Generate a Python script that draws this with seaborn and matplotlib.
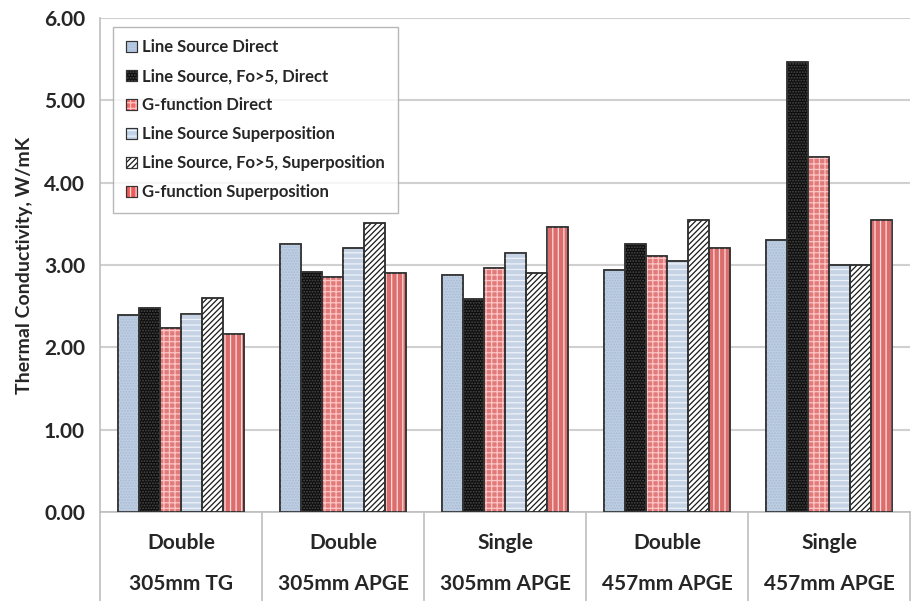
import numpy as np
import pandas as pd
import seaborn as sns
import matplotlib.pyplot as plt
import matplotlib.transforms as mtransforms
from matplotlib.patches import Rectangle, Patch

configs = ["Double", "Double", "Single", "Double", "Single"]
sizes = ["305mm TG", "305mm APGE", "305mm APGE", "457mm APGE", "457mm APGE"]
methods = ["Line Source Direct", "Line Source, Fo>5, Direct", "G-function Direct",
           "Line Source Superposition", "Line Source, Fo>5, Superposition",
           "G-function Superposition"]

ls_direct = [2.39, 3.26, 2.88, 2.94, 3.30]
ls_fo5_direct = [2.48, 2.91, 2.59, 3.26, 5.47]
gf_direct = [2.23, 2.86, 2.96, 3.11, 4.31]
ls_super = [2.41, 3.21, 3.15, 3.05, 3.00]
ls_fo5_super = [2.60, 3.51, 2.90, 3.55, 3.00]
gf_super = [2.16, 2.90, 3.46, 3.21, 3.55]

face = ["#B9CDE5", "#0D0D0D", "#F06A6A", "#C0D3EA", "#FFFFFF", "#EE5A5A"]
hatch = ["......", "......", "+++", "---", "//////", "|||"]
hatch_col = ["#A6BCD9", "#4A4A4A", "#FFC4C4", "#EEF3FA", "#1A1A1A", "#FFDADA"]

if __name__ == '__main__':
    series = [ls_direct, ls_fo5_direct, gf_direct, ls_super, ls_fo5_super, gf_super]
    groups = [str(i) for i in range(len(configs))]
    df = pd.DataFrame({
        "group": groups * len(methods),
        "k": sum(series, []),
        "method": sum([[m] * len(groups) for m in methods], []),
    })

    sns.set_style("white")
    plt.rcParams['font.family'] = ['Lato', 'DejaVu Sans']
    plt.rcParams['font.weight'] = 'bold'
    plt.rcParams['hatch.linewidth'] = 0.9

    fig = plt.figure(figsize=(9.12, 6.01), dpi=100)
    ax = fig.add_axes([0.11, 0.148, 0.888, 0.822])

    sns.barplot(ax=ax, data=df, x="group", y="k", hue="method", hue_order=methods,
                order=groups, palette=face, width=0.78, gap=0, edgecolor="#333333",
                linewidth=1.1, legend=False, errorbar=None, zorder=3)

    # overlay hatch patterns on the seaborn bars
    bars = [p for p in ax.patches if isinstance(p, Rectangle)]
    n = len(groups)
    for i, p in enumerate(bars):
        j = i // n
        ov = Rectangle(p.get_xy(), p.get_width(), p.get_height(), facecolor="none",
                       edgecolor=hatch_col[j], linewidth=0, hatch=hatch[j], zorder=3.5)
        ax.add_patch(ov)
        out = Rectangle(p.get_xy(), p.get_width(), p.get_height(), facecolor="none",
                        edgecolor="#333333", linewidth=1.1, zorder=3.6)
        ax.add_patch(out)

    ax.set_ylim(0, 6)
    ax.set_xlim(-0.5, len(groups) - 0.5)
    ax.set_yticks(np.arange(0, 7, 1))
    ax.set_yticklabels([f"{v:.2f}" for v in np.arange(0, 7, 1)], fontsize=15, fontweight='bold')
    ax.yaxis.grid(True, color="#D0D0D0", linewidth=1.5, zorder=0)
    ax.set_axisbelow(True)
    ax.tick_params(axis='y', length=7, color="#BFBFBF", width=1.2, pad=4)
    ax.tick_params(axis='x', length=0)
    ax.set_xticks(range(n))
    ax.set_xticklabels([])
    ax.set_xlabel("")
    ax.set_ylabel("Thermal Conductivity, W/mK", fontsize=14, fontweight='bold', labelpad=8)
    for s in ["top", "right"]:
        ax.spines[s].set_visible(False)
    for s in ["left", "bottom"]:
        ax.spines[s].set_color("#BFBFBF")
        ax.spines[s].set_linewidth(1.2)

    # two-level category labels with separators
    trans = mtransforms.blended_transform_factory(ax.transData, ax.transAxes)
    for i in range(n):
        ax.text(i, -0.062, configs[i], transform=trans, ha='center', va='center',
                fontsize=15, fontweight='bold')
        ax.text(i, -0.145, sizes[i], transform=trans, ha='center', va='center',
                fontsize=15, fontweight='bold')
    for b in np.arange(-0.5, n, 1.0):
        ax.plot([b, b], [0, -0.185], transform=trans, color="#BFBFBF",
                linewidth=1.2, clip_on=False)

    handles = []
    for j in range(len(methods)):
        base = Patch(facecolor=face[j], edgecolor="#333333", linewidth=0.8)
        ov = Patch(facecolor="none", edgecolor=hatch_col[j], linewidth=0, hatch=hatch[j])
        out = Patch(facecolor="none", edgecolor="#333333", linewidth=0.8)
        handles.append((base, ov, out))
    leg = ax.legend(handles, methods, loc='upper left', bbox_to_anchor=(0.016, 0.982),
                    borderaxespad=0, prop={'weight': 'bold', 'size': 12},
                    frameon=True, fancybox=False, edgecolor="#A6A6A6",
                    handlelength=0.7, handleheight=0.7, handletextpad=0.3,
                    labelspacing=0.78, borderpad=0.75)
    leg.get_frame().set_linewidth(1.0)
    leg.set_zorder(5)

    fig.savefig("out.png", dpi=100)
